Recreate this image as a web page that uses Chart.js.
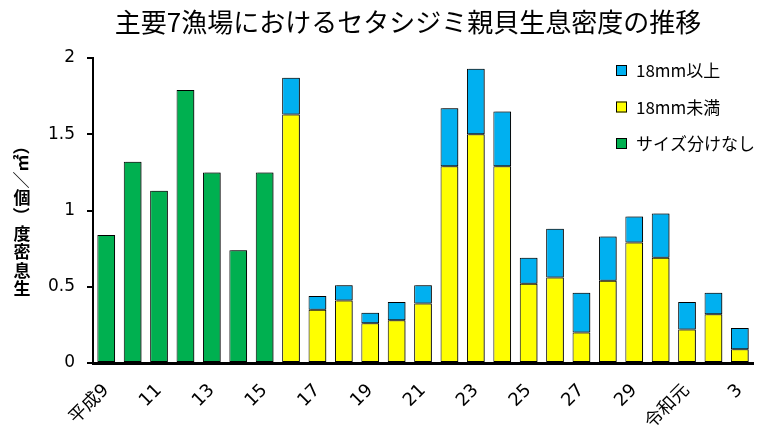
<!DOCTYPE html>
<html>
<head>
<meta charset="utf-8">
<script src="https://cdn.jsdelivr.net/npm/chart.js@4.4.1/dist/chart.umd.min.js"></script>
<style>
  html, body { margin: 0; padding: 0; background: #fff; }
  #wrap { width: 771px; height: 432px; position: relative; }
</style>
</head>
<body>
<div id="wrap"><canvas id="canvas"></canvas></div>
<script>
const labels = ['平成9', '10', '11', '12', '13', '14', '15', '16', '17', '18', '19', '20', '21',
  '22', '23', '24', '25', '26', '27', '28', '29', '30', '令和元', '2', '3'];

// サイズ分けなし (H9-H15)
const noSize = [0.84, 1.32, 1.13, 1.79, 1.25, 0.74, 1.25,
  null, null, null, null, null, null, null, null, null, null, null, null, null, null, null, null, null, null];
// 18mm未満
const under18 = [null, null, null, null, null, null, null,
  1.63, 0.35, 0.41, 0.26, 0.28, 0.39, 1.29, 1.50, 1.29, 0.52, 0.56, 0.20, 0.54, 0.79, 0.69, 0.22, 0.32, 0.09];
// 18mm以上
const over18 = [null, null, null, null, null, null, null,
  0.24, 0.09, 0.10, 0.07, 0.12, 0.12, 0.38, 0.43, 0.36, 0.17, 0.32, 0.26, 0.29, 0.17, 0.29, 0.18, 0.14, 0.14];

const yTicks = [0, 0.5, 1, 1.5, 2];
const titleText = '主要7漁場におけるセタシジミ親貝生息密度の推移';
const yTitle = '生息密度（個／㎡）';

const dataC = {
  labels: labels,
  datasets: [
    { label: 'サイズ分けなし', data: noSize, backgroundColor: '#00B050' },
    { label: '18mm未満', data: under18, backgroundColor: '#FFFF00' },
    { label: '18mm以上', data: over18, backgroundColor: '#00B0F0' },
  ].map(d => Object.assign(d, {
    borderColor: '#000',
    borderWidth: 1,
    borderSkipped: false,
    barPercentage: 0.67,
    categoryPercentage: 1,
  })),
};

// title, vertical y title, legend and bar shadow
const extras = {
  id: 'extras',
  beforeDatasetsDraw(chart) {
    const ctx = chart.ctx;
    ctx.shadowColor = 'rgba(0,0,0,0.45)';
    ctx.shadowOffsetX = 2;
    ctx.shadowOffsetY = 0;
    ctx.shadowBlur = 0;
  },
  afterDatasetsDraw(chart) {
    const ctx = chart.ctx;
    ctx.shadowColor = 'rgba(0,0,0,0)';
    ctx.shadowOffsetX = 0;
  },
  afterDraw(chart) {
    const ctx = chart.ctx;
    ctx.save();
    // title
    ctx.fillStyle = '#000';
    ctx.font = '26px "Noto Sans CJK JP"';
    ctx.textAlign = 'center';
    ctx.textBaseline = 'middle';
    ctx.fillText(titleText, 408, 22);

    // y title, stacked characters from bottom
    ctx.font = 'bold 17px "Noto Sans CJK JP"';
    let y = 298;
    for (const ch of yTitle) {
      const upright = /[\u4e00-\u9fff]/.test(ch);
      const w = upright ? 18.5 : ctx.measureText(ch).width;
      ctx.save();
      ctx.translate(22, y - w / 2);
      if (!upright) ctx.rotate(-Math.PI / 2);
      ctx.fillText(ch, 0, 0);
      ctx.restore();
      y -= w;
    }

    // legend
    ctx.font = '17px "Noto Sans CJK JP"';
    ctx.textAlign = 'left';
    const order = [2, 1, 0];
    order.forEach((di, k) => {
      const ds = chart.data.datasets[di];
      const by = 65 + k * 36.5;
      ctx.fillStyle = ds.backgroundColor;
      ctx.fillRect(616, by, 11, 11);
      ctx.strokeStyle = '#000';
      ctx.lineWidth = 1;
      ctx.strokeRect(616.5, by + 0.5, 10, 10);
      ctx.fillStyle = '#000';
      ctx.fillText(ds.label, 636, by + 6);
    });
    ctx.restore();
  }
};

const config = {
  type: 'bar',
  data: dataC,
  options: {
    responsive: true,
    maintainAspectRatio: false,
    animation: false,
    layout: { padding: { left: 40, right: 18, top: 58, bottom: 0 } },
    plugins: {
      legend: { display: false },
      title: { display: false },
      tooltip: { enabled: false },
    },
    scales: {
      x: {
        stacked: true,
        grid: { display: false },
        border: { display: true, color: '#000', width: 3 },
        ticks: {
          autoSkip: false,
          maxRotation: 45,
          minRotation: 45,
          color: '#000',
          padding: 9,
          font: { family: '"DejaVu Sans", "Noto Sans CJK JP"', size: 18 },
          callback: (v, i) => (i % 2 === 0 ? labels[i] : ''),
        },
        afterFit: s => { s.height = 69; },
      },
      y: {
        stacked: true,
        min: 0,
        max: 2,
        grid: { drawOnChartArea: false, drawTicks: true, tickLength: 6, color: '#000', lineWidth: 2 },
        border: { display: true, color: '#000', width: 2 },
        ticks: {
          color: '#000',
          padding: 12,
          font: { family: '"DejaVu Sans"', size: 17 },
          callback: v => String(v),
        },
        afterBuildTicks: s => { s.ticks = yTicks.map(v => ({ value: v })); },
        afterFit: s => { s.width = 53; },
      },
    },
  },
  plugins: [extras],
};

const canvas = document.getElementById('canvas');
const chart = new Chart(canvas, config);
</script>
</body>
</html>
